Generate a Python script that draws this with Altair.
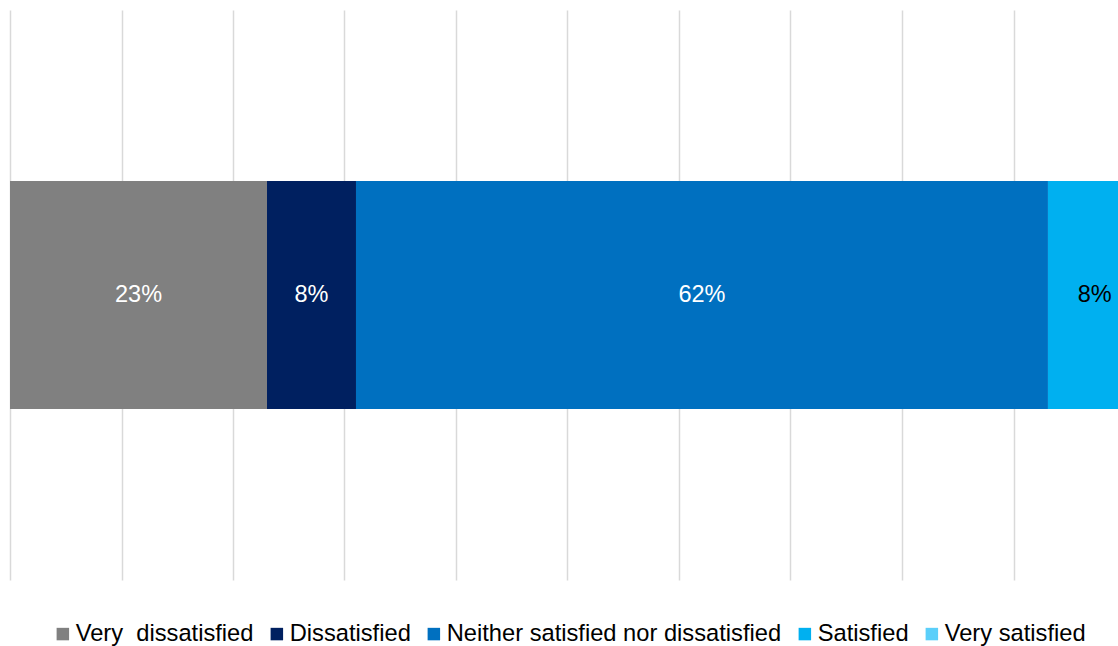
import altair as alt
import pandas as pd

categories = ["Very\u00a0 dissatisfied", "Dissatisfied", "Neither satisfied nor dissatisfied",
              "Satisfied", "Very satisfied"]
values = [0.2305, 0.0798, 0.6206, 0.084, 0.0]
colors = ["#808080", "#002060", "#0070C0", "#00B0F0", "#5BCFFA"]
label_colors = ["#FFFFFF", "#FFFFFF", "#FFFFFF", "#000000", "#000000"]
grid_ticks = [0, 0.1, 0.2, 0.3, 0.4, 0.5, 0.6, 0.7, 0.8, 0.9]

df = pd.DataFrame({"cat": categories, "value": values, "lc": label_colors})
df["order"] = range(len(df))
df["end"] = df["value"].cumsum()
df["start"] = df["end"] - df["value"]
df["mid"] = (df["start"] + df["end"]) / 2
df["row"] = "All"

font = "Liberation Sans"
xscale = alt.Scale(domain=[0, 1108 / 1115], nice=False, zero=True)
xaxis = alt.Axis(values=grid_ticks, labels=False, ticks=False, domain=False, title=None,
                 grid=True, gridColor="#D9D9D9", gridWidth=1.5)
yenc = alt.Y("row:N", axis=None)

bars = alt.Chart(df).mark_bar(size=228, clip=True).encode(
    x=alt.X("start:Q", scale=xscale, axis=xaxis),
    x2="end:Q",
    y=yenc,
    color=alt.Color("cat:N", scale=alt.Scale(domain=categories, range=colors),
                    sort=categories,
                    legend=alt.Legend(title=None, orient="none", legendX=41, legendY=612,
                                      direction="horizontal", symbolType="square",
                                      symbolSize=156, symbolStrokeWidth=0,
                                      labelFont=font, labelFontSize=23.7, labelColor="#000000",
                                      labelOffset=1, columnPadding=11, labelLimit=500)),
)

texts = alt.Chart(df).transform_filter("datum.value > 0").mark_text(
    font=font, fontSize=23.5, align="center", baseline="middle").encode(
    x=alt.X("mid:Q", scale=xscale),
    y=yenc,
    text=alt.Text("value:Q", format=".0%"),
    color=alt.Color("lc:N", scale=None),
)

chart = alt.layer(bars, texts).properties(
    width=1108, height=570,
    padding={"left": 10, "top": 10, "right": 0, "bottom": 66},
    autosize=alt.AutoSizeParams(type="none"),
    background="white",
).configure_view(stroke=None)

chart.save("out.html", embed_options={"renderer": "svg", "actions": False})
